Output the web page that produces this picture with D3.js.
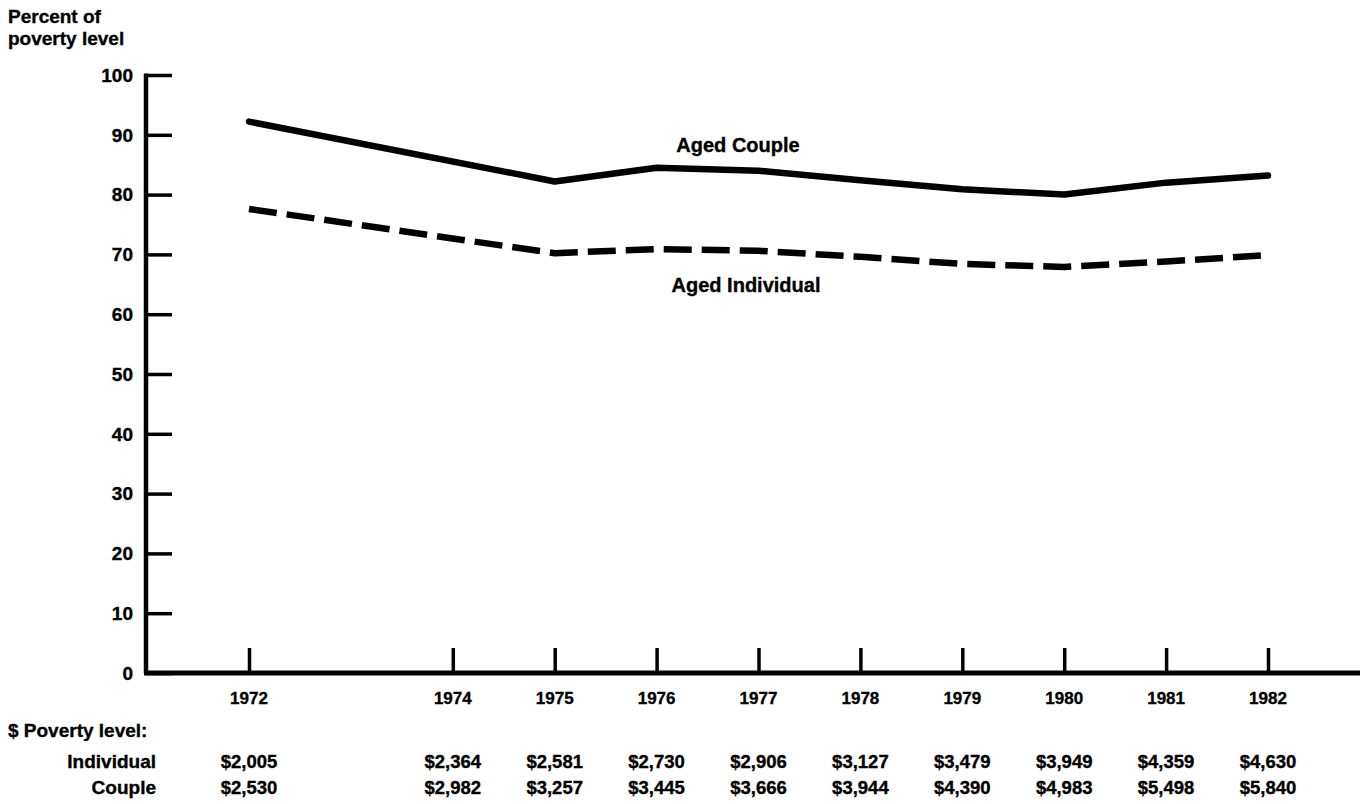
<html lang="en">
<head>
  <title>Percent of poverty level</title>
  <meta charset="utf-8"/>
  <script src="https://d3js.org/d3.v7.min.js"></script>
  <style>
  body { margin: 0; background: #fff; }
  text {
    font-family: "Liberation Sans", Arial, sans-serif;
    font-weight: bold;
    fill: #000;
    stroke: #000;
    stroke-width: 0.35px;
  }
  .series { fill: none; stroke: #000; stroke-width: 6.5px; stroke-linejoin: round; }
  </style>
</head>
<body>
  <svg id="chart" width="1360" height="804"></svg>
  <script>
    // values
    const years = [1972, 1975, 1976, 1977, 1978, 1979, 1980, 1981, 1982];
    const couple = [92.2, 82.2, 84.5, 84.0, 82.4, 80.9, 80.0, 82.0, 83.2];
    const individual = [77.6, 70.2, 70.9, 70.6, 69.6, 68.4, 67.9, 68.8, 69.9];

    const tickYears = [1972, 1974, 1975, 1976, 1977, 1978, 1979, 1980, 1981, 1982];
    const povIndividual = ["$2,005", "$2,364", "$2,581", "$2,730", "$2,906", "$3,127", "$3,479", "$3,949", "$4,359", "$4,630"];
    const povCouple = ["$2,530", "$2,982", "$3,257", "$3,445", "$3,666", "$3,944", "$4,390", "$4,983", "$5,498", "$5,840"];
    const yTicks = [0, 10, 20, 30, 40, 50, 60, 70, 80, 90, 100];

    const svg = d3.select("#chart");
    const x = d3.scaleLinear().domain([1972, 1982]).range([249, 1268]);
    const y = d3.scaleLinear().domain([0, 100]).range([673, 75]);
    const axisX = 146;

    // y axis
    const yAxis = svg.append("g").attr("transform", "translate(" + axisX + ",0)")
      .call(d3.axisRight(y).tickValues(yTicks).tickSize(26).tickFormat(""));
    yAxis.select(".domain").remove();
    yAxis.selectAll(".tick line").attr("stroke", "#000").attr("stroke-width", 3.5);
    svg.append("line")
      .attr("x1", axisX).attr("x2", axisX)
      .attr("y1", y(100) - 1.5).attr("y2", y(0))
      .attr("stroke", "#000").attr("stroke-width", 4.5);
    svg.append("g").selectAll("text").data(yTicks).join("text")
      .attr("x", 133).attr("y", d => y(d))
      .attr("dy", "0.36em").attr("text-anchor", "end")
      .attr("font-size", 19).text(d => d);

    // x axis with upward ticks
    const xAxis = svg.append("g").attr("transform", "translate(0," + y(0) + ")")
      .call(d3.axisTop(x).tickValues(tickYears).tickSize(25).tickFormat(""));
    xAxis.select(".domain").remove();
    xAxis.selectAll(".tick line").attr("stroke", "#000").attr("stroke-width", 3.5);
    svg.append("line")
      .attr("x1", axisX - 2).attr("x2", 1360)
      .attr("y1", y(0)).attr("y2", y(0))
      .attr("stroke", "#000").attr("stroke-width", 5);
    svg.append("g").selectAll("text").data(tickYears).join("text")
      .attr("x", d => x(d)).attr("y", 704)
      .attr("text-anchor", "middle").attr("font-size", 17).text(d => d);

    // axis title
    svg.append("text").attr("x", 8).attr("y", 23).attr("font-size", 19).text("Percent of");
    svg.append("text").attr("x", 8).attr("y", 45).attr("font-size", 19).text("poverty level");

    // series
    const line = d3.line().x((d, i) => x(years[i])).y(d => y(d));
    svg.append("path").datum(couple).attr("class", "series")
      .attr("stroke-linecap", "round").attr("d", line);
    svg.append("path").datum(individual).attr("class", "series")
      .attr("stroke-dasharray", "28,10").attr("d", line);

    svg.append("text").attr("x", 738).attr("y", 152).attr("text-anchor", "middle")
      .attr("font-size", 20).text("Aged Couple");
    svg.append("text").attr("x", 746).attr("y", 292).attr("text-anchor", "middle")
      .attr("font-size", 20).text("Aged Individual");

    // poverty level table
    svg.append("text").attr("x", 8).attr("y", 737).attr("font-size", 19).text("$ Poverty level:");
    svg.append("text").attr("x", 156).attr("y", 768).attr("text-anchor", "end").attr("font-size", 19).text("Individual");
    svg.append("text").attr("x", 156).attr("y", 794).attr("text-anchor", "end").attr("font-size", 19).text("Couple");
    svg.append("g").selectAll("text").data(povIndividual).join("text")
      .attr("x", (d, i) => x(tickYears[i])).attr("y", 768)
      .attr("text-anchor", "middle").attr("font-size", 18.5).text(d => d);
    svg.append("g").selectAll("text").data(povCouple).join("text")
      .attr("x", (d, i) => x(tickYears[i])).attr("y", 794)
      .attr("text-anchor", "middle").attr("font-size", 18.5).text(d => d);
  </script>
</body>
</html>
